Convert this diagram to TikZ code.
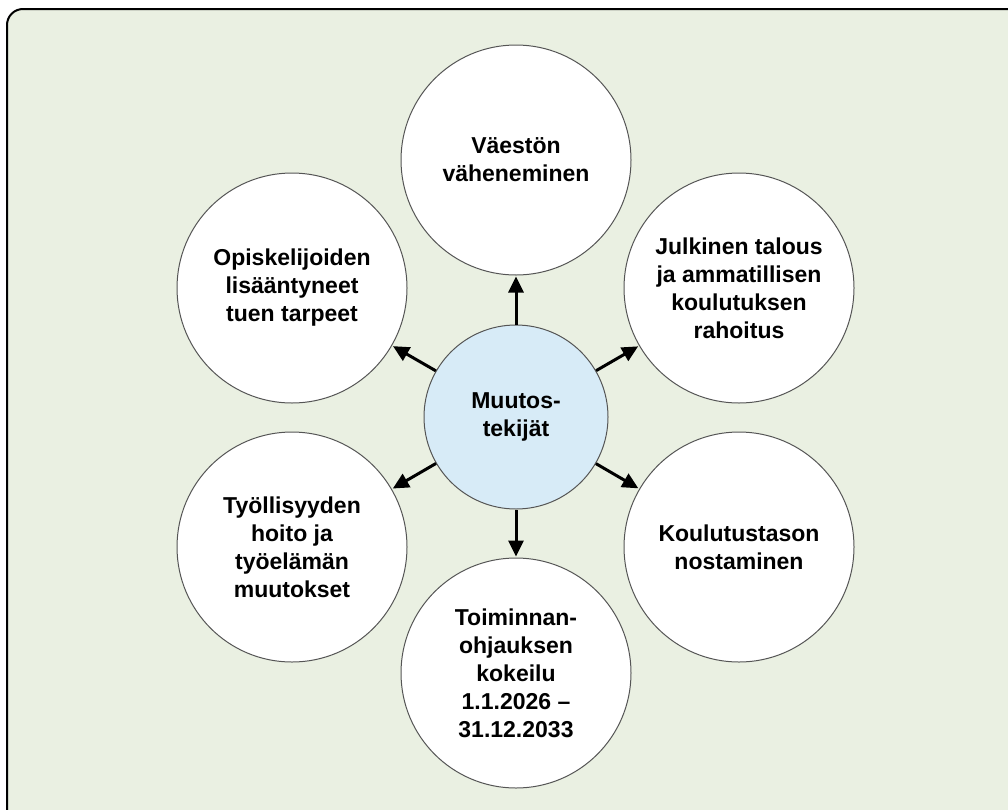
\documentclass[tikz,border=0pt]{standalone}
\usepackage{fontspec}
\setmainfont{Liberation Sans}
\usetikzlibrary{arrows.meta}
\definecolor{bgcol}{HTML}{EAF0E2}
\definecolor{midcol}{HTML}{D7EBF7}
\definecolor{rimcol}{HTML}{555555}
\tikzset{
  outer/.style={circle, draw=rimcol, line width=1pt, fill=white, minimum size=230pt, inner sep=0pt,
    align=center, font=\fontsize{23}{28}\selectfont\bfseries},
  middle/.style={outer, fill=midcol, minimum size=184pt},
  arr/.style={line width=3pt, -{Triangle[length=16pt,width=15pt]}, shorten <=0pt, shorten >=1pt}
}
\begin{document}
\begin{tikzpicture}[x=1pt,y=-1pt]
\useasboundingbox (0,0) rectangle (1008,809);
\clip (0,0) rectangle (1008,809);
\fill[white] (0,0) rectangle (1008,809);
\draw[fill=bgcol, draw=black, line width=2pt, rounded corners=16pt] (7,9) rectangle (1024,824);
\node[middle] (c) at (516,417) {Muutos-\\tekijät};
\node[outer] (t) at (516,160) {Väestön\\väheneminen};
\node[outer] (ur) at (739,288) {Julkinen talous\\ja ammatillisen\\koulutuksen\\rahoitus};
\node[outer] (lr) at (739,547) {Koulutustason\\nostaminen};
\node[outer] (b) at (516,673) {Toiminnan-\\ohjauksen\\kokeilu\\1.1.2026 –\\31.12.2033};
\node[outer] (ll) at (292,547) {Työllisyyden\\hoito ja\\työelämän\\muutokset};
\node[outer] (ul) at (292,288) {Opiskelijoiden\\lisääntyneet\\tuen tarpeet};
\foreach \n in {t,ur,lr,b,ll,ul} {\draw[arr] (c) -- (\n);}
\end{tikzpicture}
\end{document}
